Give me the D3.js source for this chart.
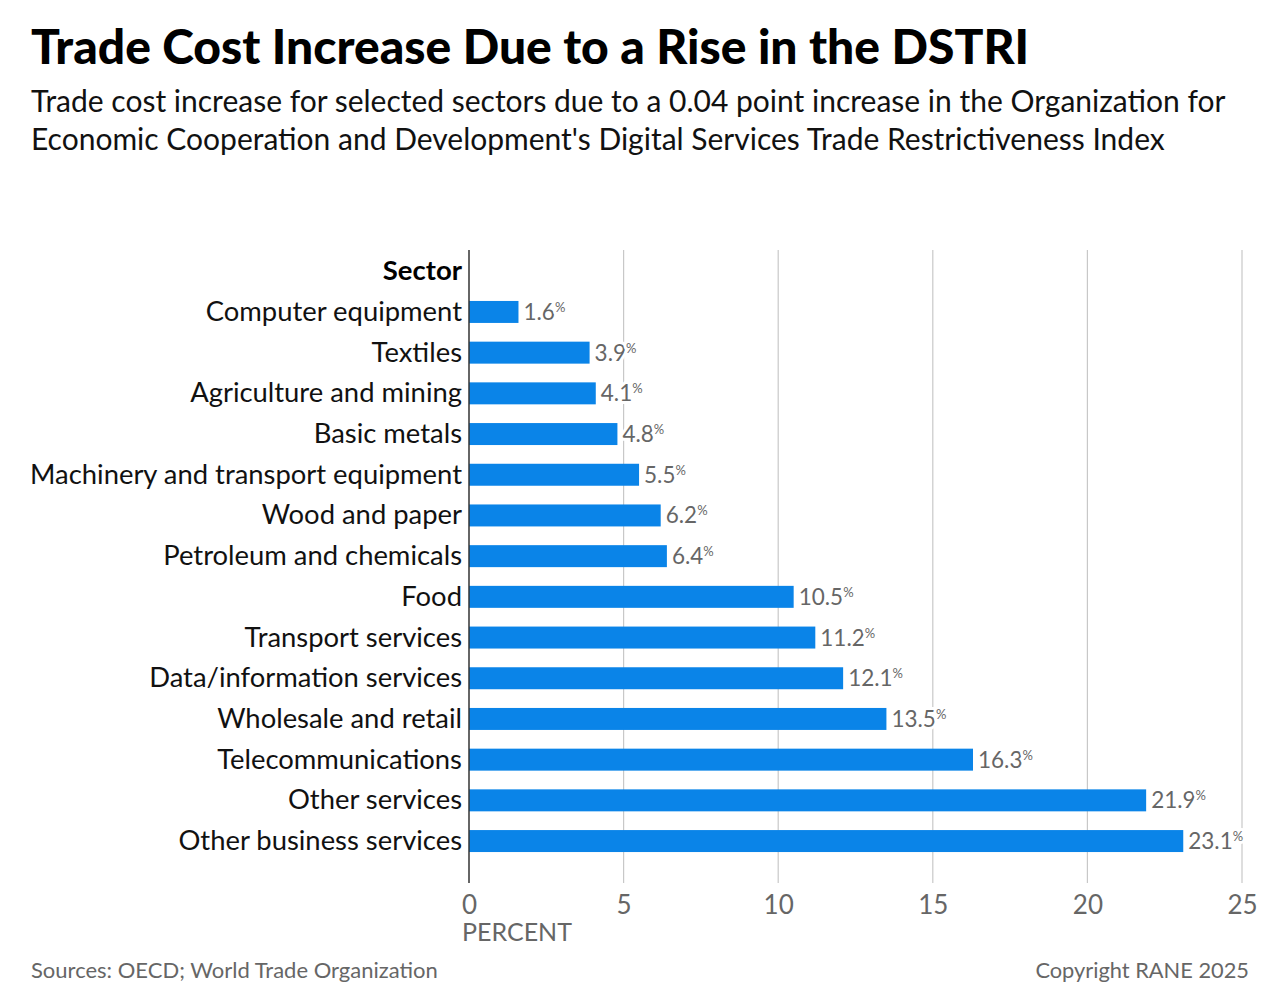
<!DOCTYPE html>
<html>
<head>
<meta charset="utf-8">
<script src="https://cdn.jsdelivr.net/npm/d3@7"></script>
<style>
  body { margin: 0; background: #fff; }
  svg text { font-family: Lato, "Open Sans", sans-serif; }
</style>
</head>
<body>
<svg width="1280" height="1007"></svg>
<script>
var sectors = [
  "Computer equipment",
  "Textiles",
  "Agriculture and mining",
  "Basic metals",
  "Machinery and transport equipment",
  "Wood and paper",
  "Petroleum and chemicals",
  "Food",
  "Transport services",
  "Data/information services",
  "Wholesale and retail",
  "Telecommunications",
  "Other services",
  "Other business services"
];
var costIncrease = [1.6, 3.9, 4.1, 4.8, 5.5, 6.2, 6.4, 10.5, 11.2, 12.1, 13.5, 16.3, 21.9, 23.1];
var xTicks = [0, 5, 10, 15, 20, 25];

var data = sectors.map(function (s, i) { return { sector: s, value: costIncrease[i] }; });

var svg = d3.select("svg");

// titles
svg.append("text")
  .attr("x", 31).attr("y", 64)
  .attr("font-size", 48).attr("font-weight", 900).attr("fill", "#000")
  .text("Trade Cost Increase Due to a Rise in the DSTRI");

var sub = ["Trade cost increase for selected sectors due to a 0.04 point increase in the Organization for",
           "Economic Cooperation and Development's Digital Services Trade Restrictiveness Index"];
svg.selectAll(".sub").data(sub).enter().append("text")
  .attr("class", "sub")
  .attr("x", 31).attr("y", function (d, i) { return 112 + i * 38; })
  .attr("font-size", 30).attr("fill", "#111")
  .text(function (d) { return d; });

var x = d3.scaleLinear().domain([0, 25]).range([469, 1242]);
var y = d3.scaleBand().domain(sectors).range([291.6, 861.4]).paddingInner(0.46).paddingOuter(0.23);

var gridTop = 250, gridBottom = 883;

// gridlines
svg.append("g").selectAll("line").data(xTicks.slice(1)).enter().append("line")
  .attr("x1", function (d) { return x(d); }).attr("x2", function (d) { return x(d); })
  .attr("y1", gridTop).attr("y2", gridBottom)
  .attr("stroke", "#c8c8c8").attr("stroke-width", 1.2);

// bars
svg.append("g").selectAll("rect").data(data).enter().append("rect")
  .attr("x", x(0))
  .attr("y", function (d) { return y(d.sector); })
  .attr("width", function (d) { return x(d.value) - x(0); })
  .attr("height", y.bandwidth())
  .attr("fill", "#0a84e8");

// zero line
svg.append("line")
  .attr("x1", x(0)).attr("x2", x(0)).attr("y1", gridTop).attr("y2", gridBottom)
  .attr("stroke", "#333").attr("stroke-width", 1.5);

// value labels with white knock-out behind
var vl = svg.append("g").selectAll("text").data(data).enter().append("text")
  .attr("x", function (d) { return x(d.value) + 5; })
  .attr("y", function (d) { return y(d.sector) + y.bandwidth() / 2 + 8; })
  .attr("font-size", 22.5).attr("fill", "#666")
  .attr("stroke", "#fff").attr("stroke-width", 6).attr("paint-order", "stroke")
  .attr("stroke-linejoin", "round");
vl.append("tspan").text(function (d) { return d3.format(".1f")(d.value); });
vl.append("tspan").attr("font-size", 13).attr("dy", -8).text("%");

// category labels
svg.append("g").selectAll("text").data(data).enter().append("text")
  .attr("x", 462)
  .attr("y", function (d) { return y(d.sector) + y.bandwidth() / 2 + 9; })
  .attr("text-anchor", "end").attr("font-size", 27.4).attr("fill", "#111")
  .text(function (d) { return d.sector; });

svg.append("text")
  .attr("x", 462).attr("y", 280)
  .attr("text-anchor", "end").attr("font-size", 27.5).attr("font-weight", 700).attr("fill", "#000")
  .text("Sector");

// x axis
var xAxis = d3.axisBottom(x).tickValues(xTicks).tickSize(0).tickPadding(0);
var ax = svg.append("g").attr("transform", "translate(0," + 894 + ")").call(xAxis);
ax.select(".domain").remove();
ax.selectAll("text")
  .attr("dy", null).attr("y", 20)
  .attr("font-size", 26).attr("fill", "#666")
  .style("font-family", "Lato, sans-serif");

svg.append("text")
  .attr("x", 462).attr("y", 941)
  .attr("font-size", 25).attr("fill", "#666")
  .text("PERCENT");

// footer
svg.append("text")
  .attr("x", 31).attr("y", 978)
  .attr("font-size", 22).attr("fill", "#666")
  .text("Sources: OECD; World Trade Organization");
svg.append("text")
  .attr("x", 1249).attr("y", 978)
  .attr("text-anchor", "end").attr("font-size", 21.8).attr("fill", "#666")
  .text("Copyright RANE 2025");
</script>
</body>
</html>
